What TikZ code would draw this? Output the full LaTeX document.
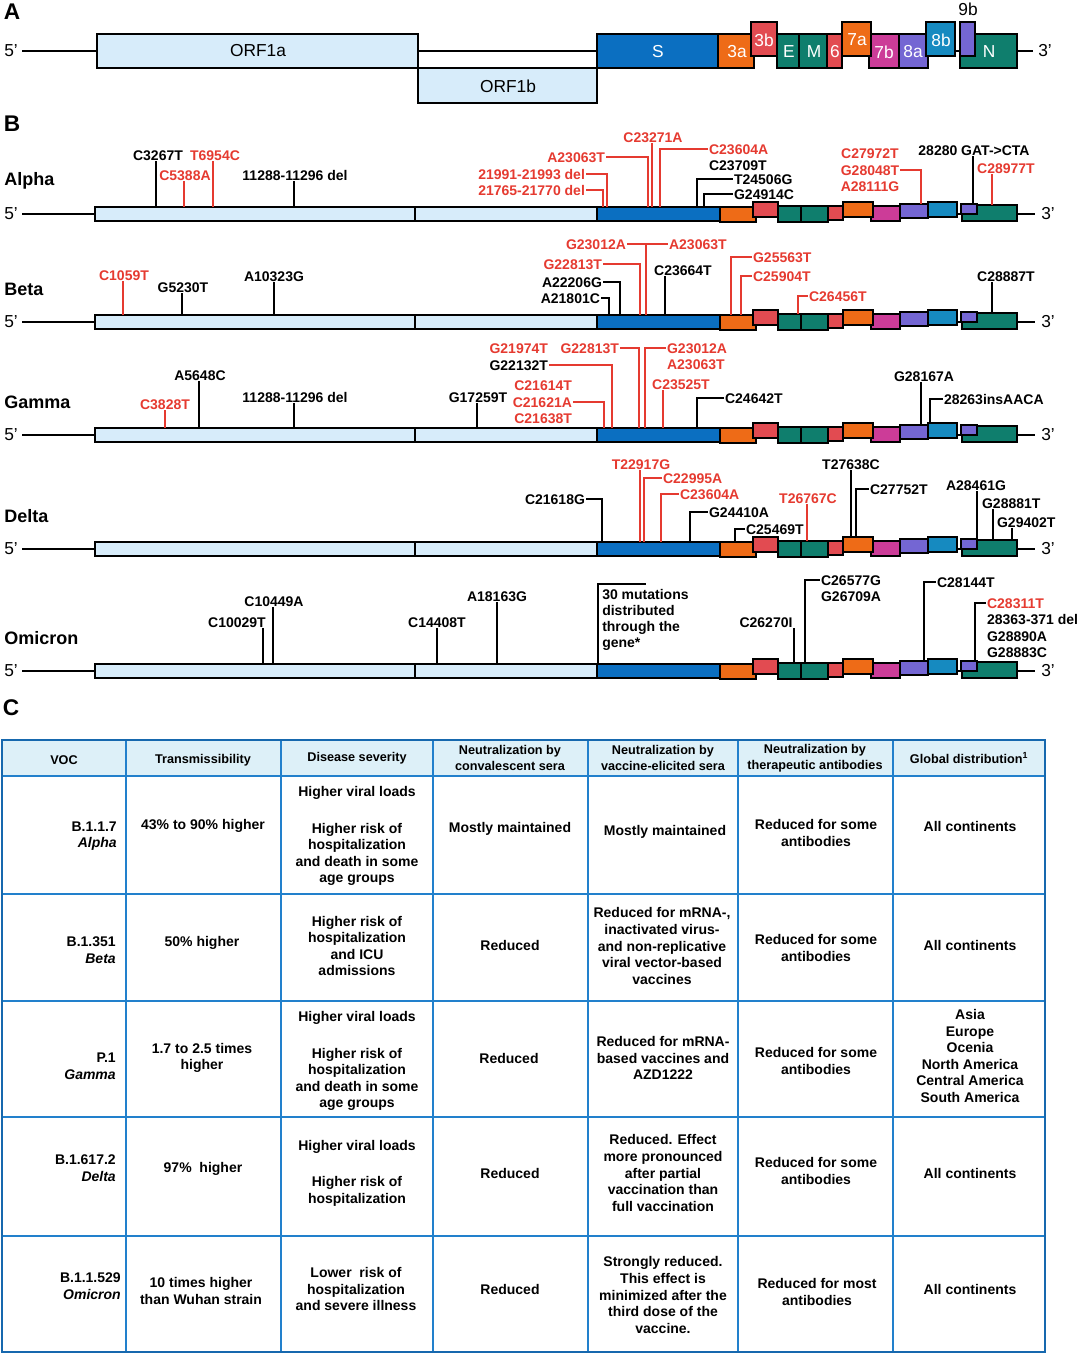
\documentclass[tikz,border=0pt]{standalone}
\usepackage{fontspec}
\setmainfont{Liberation Sans}
\usetikzlibrary{positioning}

\definecolor{orfblue}{HTML}{D7ECFA}
\definecolor{sblue}{HTML}{0B6FC1}
\definecolor{orfora}{HTML}{EE6B17}
\definecolor{orfred}{HTML}{E24B51}
\definecolor{orfteal}{HTML}{0F7E6D}
\definecolor{orfmag}{HTML}{CC3C98}
\definecolor{orfpur}{HTML}{7466D3}
\definecolor{orfcyan}{HTML}{168AC0}
\definecolor{mutred}{HTML}{E53A30}
\definecolor{tabline}{HTML}{2280CC}
\definecolor{tabedge}{HTML}{1668AE}
\definecolor{tabhead}{HTML}{DDF0F8}

\newcommand{\mutfont}{\fontsize{10.5}{12}\selectfont\bfseries}
\newcommand{\genefont}{\fontsize{13}{15}\selectfont}
\newcommand{\trackfont}{\fontsize{13.5}{16}\selectfont\bfseries}
\newcommand{\panelfont}{\fontsize{17}{20}\selectfont\bfseries}
\newcommand{\cellfont}{\fontsize{10.5}{12.4}\selectfont\bfseries}
\newcommand{\headfont}{\fontsize{9.5}{12}\selectfont\bfseries}

\begin{document}
\begin{tikzpicture}[
    x=0.75pt, y=-0.75pt,
    genebox/.style={draw=black, line width=1.1pt},
    genelabel/.style={font=\genefont, text=white, inner sep=0pt},
    trackline/.style={draw=black, line width=1.1pt},
    prime/.style={font=\genefont, inner sep=0pt},
    panel/.style={font=\panelfont, inner sep=0pt},
    trackname/.style={font=\trackfont, anchor=west, inner sep=0pt},
    mut/.style={font=\mutfont, inner sep=0.6pt, text height=7.8pt, text depth=0pt},
    redmut/.style={mut, text=mutred},
    blkline/.style={draw=black, line width=1pt},
    redline/.style={draw=mutred, line width=1pt},
    thickred/.style={draw=mutred, line width=1.8pt},
    cell/.style={font=\cellfont, align=center, inner sep=0pt},
    vocell/.style={cell, align=right, anchor=east},
    headcell/.style={font=\headfont, align=center, inner sep=0pt},
    tabgrid/.style={draw=tabline, line width=1pt},
    node distance=3pt
    ]
    \useasboundingbox (0,0) rectangle (1080,1355);

    %Panel A
    \node[panel] (pA) at (12,12) {A};
    \node[prime] (fiveA) at (11,51) {5'};
    \draw[trackline] (22,51) -- (97,51);
    \draw[trackline] (418,51) -- (597,51);
    \draw[trackline] (955,51) -- (960,51);
    \draw[trackline] (1017,51) -- (1033,51);
    \filldraw[genebox, fill=orfblue] (97,34) rectangle (418,68);
    \filldraw[genebox, fill=orfblue] (418,68) rectangle (597,103);
    \filldraw[genebox, fill=sblue] (597,34) rectangle (718,68);
    \filldraw[genebox, fill=orfora] (718,34) rectangle (754,68);
    \filldraw[genebox, fill=orfred] (751,22) rectangle (777,56);
    \filldraw[genebox, fill=orfteal] (777,34) rectangle (799,68);
    \filldraw[genebox, fill=orfteal] (799,34) rectangle (827,68);
    \filldraw[genebox, fill=orfred] (827,34) rectangle (842,68);
    \filldraw[genebox, fill=orfmag] (869,34) rectangle (899,68);
    \filldraw[genebox, fill=orfora] (842,22) rectangle (871,56);
    \filldraw[genebox, fill=orfpur] (899,34) rectangle (928,68);
    \filldraw[genebox, fill=orfcyan] (926,22) rectangle (955,56);
    \filldraw[genebox, fill=orfteal] (960,34) rectangle (1017,68);
    \filldraw[genebox, fill=orfpur] (960,22) rectangle (975,56);

    \node[genelabel, text=black] (ORF1a) at (258,51) {ORF1a};
    \node[genelabel, text=black] (ORF1b) at (508,86) {ORF1b};
    \node[genelabel] (gS) at (658,52) {S};
    \node[genelabel] (g3a) at (737,52) {3a};
    \node[genelabel] (g3b) at (764,40) {3b};
    \node[genelabel] (gE) at (789,52) {E};
    \node[genelabel] (gM) at (814,52) {M};
    \node[genelabel] (g6) at (835,52) {6};
    \node[genelabel] (g7a) at (857,40) {7a};
    \node[genelabel] (g7b) at (884,52) {7b};
    \node[genelabel] (g8a) at (913,52) {8a};
    \node[genelabel] (g8b) at (941,40) {8b};
    \node[genelabel] (gN) at (989,52) {N};
    \node[genelabel, text=black] (g9b) at (968,9) {9b};
    \node[prime] (threeA) at (1045,51) {3'};

    %Panel B
    \node[panel] (pB) at (12,124) {B};
    \node[trackname] (tAlpha) at (4,181) {Alpha};
    \node[trackname] (tBeta) at (4,289) {Beta};
    \node[trackname] (tGamma) at (4,402) {Gamma};
    \node[trackname] (tDelta) at (4,516) {Delta};
    \node[trackname] (tOmicron) at (4,638) {Omicron};

    \foreach \ty in {214,322,435,549,671} {
        \node[prime] (five\ty) at (11,\ty) {5'};
        \node[prime] (three\ty) at (1048,\ty) {3'};
        \draw[trackline] (22,\ty) -- (95,\ty);
        \draw[trackline] (955,\ty) -- (963,\ty);
        \draw[trackline] (1017,\ty) -- (1035,\ty);
        \filldraw[genebox, fill=orfblue] (95,\ty-7) rectangle (415,\ty+7);
        \filldraw[genebox, fill=orfblue] (415,\ty-7) rectangle (597,\ty+7);
        \filldraw[genebox, fill=sblue] (597,\ty-7) rectangle (720,\ty+7);
        \filldraw[genebox, fill=orfora] (720,\ty-7) rectangle (756,\ty+8);
        \filldraw[genebox, fill=orfred] (753,\ty-12) rectangle (778,\ty+3);
        \filldraw[genebox, fill=orfteal] (778,\ty-8) rectangle (801,\ty+8);
        \filldraw[genebox, fill=orfteal] (801,\ty-8) rectangle (828,\ty+8);
        \filldraw[genebox, fill=orfred] (828,\ty-8) rectangle (843,\ty+6);
        \filldraw[genebox, fill=orfmag] (871,\ty-8) rectangle (900,\ty+7);
        \filldraw[genebox, fill=orfora] (843,\ty-12) rectangle (873,\ty+3);
        \filldraw[genebox, fill=orfpur] (900,\ty-10) rectangle (928,\ty+4);
        \filldraw[genebox, fill=orfcyan] (928,\ty-12) rectangle (957,\ty+3);
        \filldraw[genebox, fill=orfteal] (962,\ty-9) rectangle (1017,\ty+7);
        \filldraw[genebox, fill=orfpur] (961,\ty-10) rectangle (977,\ty);
    }

    %Alpha
    \node[mut] (aC3267T) at (158,155) {C3267T};
    \node[redmut] (aT6954C) at (215,155) {T6954C};
    \node[redmut] (aC5388A) at (185,175) {C5388A};
    \node[mut] (a11288) at (295,175) {11288-11296 del};
    \node[redmut, anchor=east] (a21991) at (586,174) {21991-21993 del};
    \node[redmut, anchor=east] (a21765) at (586,190) {21765-21770 del};
    \node[redmut, anchor=east] (aA23063T) at (606,157) {A23063T};
    \node[redmut] (aC23271A) at (653,137) {C23271A};
    \node[redmut, anchor=west] (aC23604A) at (708,149) {C23604A};
    \node[mut, below=of aC23604A.south west, anchor=north west] (aC23709T) {C23709T};
    \node[mut, anchor=west] (aT24506G) at (733,179) {T24506G};
    \node[mut, anchor=west] (aG24914C) at (733,194) {G24914C};
    \node[redmut] (aG28048T) at (870,170) {G28048T};
    \node[redmut, above=of aG28048T] (aC27972T) {C27972T};
    \node[redmut, below=of aG28048T] (aA28111G) {A28111G};
    \node[mut] (a28280) at (974,150) {28280 GAT->CTA};
    \node[redmut] (aC28977T) at (1006,168) {C28977T};

    \draw[blkline] (156,207) coordinate (aC3267Tt) -- (aC3267Tt |- aC3267T.south);
    \draw[redline] (213,207) coordinate (aT6954Ct) -- (aT6954Ct |- aT6954C.south);
    \draw[redline] (184,207) coordinate (aC5388At) -- (aC5388At |- aC5388A.south);
    \draw[blkline] (294,207) coordinate (a11288t) -- (a11288t |- a11288.south);
    \draw[redline] (607,207) coordinate (a21991t) |- (a21991.east);
    \draw[redline] (603,207) coordinate (a21765t) |- (a21765.east);
    \draw[redline] (648,207) coordinate (aA23063Tt) |- (aA23063T.east);
    \draw[redline] (652,207) coordinate (aC23271At) -- (aC23271At |- aC23271A.south);
    \draw[redline] (660,207) coordinate (aC23604At) |- (aC23604A.west);
    \draw[blkline] (697,207) coordinate (aT24506Gt) |- (aT24506G.west);
    \draw[blkline] (704,207) coordinate (aG24914Ct) |- (aG24914C.west);
    \draw[thickred] (921,204) coordinate (aG28048Tt) |- (aG28048T.east);
    \draw[blkline] (973,204) coordinate (a28280t) -- (a28280t |- a28280.south);
    \draw[redline] (992,205) coordinate (aC28977Tt) -- (aC28977Tt |- aC28977T.south);

    %Beta
    \node[redmut] (bC1059T) at (124,275) {C1059T};
    \node[mut] (bG5230T) at (183,287) {G5230T};
    \node[mut] (bA10323G) at (274,276) {A10323G};
    \node[redmut, anchor=east] (bG23012A) at (627,244) {G23012A};
    \node[redmut, anchor=west] (bA23063T) at (668,244) {A23063T};
    \node[redmut, anchor=east] (bG22813T) at (603,264) {G22813T};
    \node[mut, anchor=east] (bA22206G) at (603,282) {A22206G};
    \node[mut, anchor=east] (bA21801C) at (601,298) {A21801C};
    \node[mut] (bC23664T) at (683,270) {C23664T};
    \node[redmut, anchor=west] (bG25563T) at (752,257) {G25563T};
    \node[redmut, anchor=west] (bC25904T) at (752,276) {C25904T};
    \node[redmut, anchor=west] (bC26456T) at (808,296) {C26456T};
    \node[mut] (bC28887T) at (1006,276) {C28887T};

    \draw[redline] (123,315) coordinate (bC1059Tt) -- (bC1059Tt |- bC1059T.south);
    \draw[blkline] (182,315) coordinate (bG5230Tt) -- (bG5230Tt |- bG5230T.south);
    \draw[blkline] (274,315) coordinate (bA10323Gt) -- (bA10323Gt |- bA10323G.south);
    \draw[redline] (bG23012A.east) -- (bA23063T.west);
    \draw[thickred] (646,315) coordinate (bG23012At) -- (bG23012At |- bG23012A.east);
    \draw[redline] (640,315) coordinate (bG22813Tt) |- (bG22813T.east);
    \draw[blkline] (620,315) coordinate (bA22206Gt) |- (bA22206G.east);
    \draw[blkline] (609,315) coordinate (bA21801Ct) |- (bA21801C.east);
    \draw[blkline] (665,315) coordinate (bC23664Tt) -- (bC23664Tt |- bC23664T.south);
    \draw[redline] (731,315) coordinate (bG25563Tt) |- (bG25563T.west);
    \draw[redline] (741,315) coordinate (bC25904Tt) |- (bC25904T.west);
    \draw[redline] (798,314) coordinate (bC26456Tt) |- (bC26456T.west);
    \draw[blkline] (992,313) coordinate (bC28887Tt) -- (bC28887Tt |- bC28887T.south);

    %Gamma
    \node[redmut] (gC3828T) at (165,404) {C3828T};
    \node[mut] (gA5648C) at (200,375) {A5648C};
    \node[mut] (g11288) at (295,397) {11288-11296 del};
    \node[mut] (gG17259T) at (478,397) {G17259T};
    \node[mut, anchor=east] (gG22132T) at (549,365) {G22132T};
    \node[redmut, above=of gG22132T.north east, anchor=south east] (gG21974T) {G21974T};
    \node[redmut, anchor=east] (gC21621A) at (573,402) {C21621A};
    \node[redmut, above=of gC21621A.north east, anchor=south east] (gC21614T) {C21614T};
    \node[redmut, below=of gC21621A.south east, anchor=north east] (gC21638T) {C21638T};
    \node[redmut, anchor=east] (gG22813T) at (620,348) {G22813T};
    \node[redmut, anchor=west] (gG23012A) at (666,348) {G23012A};
    \node[redmut, below=of gG23012A.south west, anchor=north west] (gA23063T) {A23063T};
    \node[redmut] (gC23525T) at (681,384) {C23525T};
    \node[mut, anchor=west] (gC24642T) at (724,398) {C24642T};
    \node[mut] (gG28167A) at (924,376) {G28167A};
    \node[mut, anchor=west] (g28263) at (943,399) {28263insAACA};

    \draw[redline] (165,428) coordinate (gC3828Tt) -- (gC3828Tt |- gC3828T.south);
    \draw[blkline] (199,428) coordinate (gA5648Ct) -- (gA5648Ct |- gA5648C.south);
    \draw[blkline] (294,428) coordinate (g11288t) -- (g11288t |- g11288.south);
    \draw[blkline] (477,428) coordinate (gG17259Tt) -- (gG17259Tt |- gG17259T.south);
    \draw[thickred] (612,428) coordinate (gG22132Tt) |- (gG22132T.east);
    \draw[thickred] (604,428) coordinate (gC21621At) |- (gC21621A.east);
    \draw[redline] (639,428) coordinate (gG22813Tt) |- (gG22813T.east);
    \draw[thickred] (645,428) coordinate (gG23012At) |- (gG23012A.west);
    \draw[redline] (663,428) coordinate (gC23525Tt) -- (gC23525Tt |- gC23525T.south);
    \draw[blkline] (697,428) coordinate (gC24642Tt) |- (gC24642T.west);
    \draw[blkline] (921,425) coordinate (gG28167At) -- (gG28167At |- gG28167A.south);
    \draw[blkline] (930,423) coordinate (g28263t) |- (g28263.west);

    %Delta
    \node[mut, anchor=east] (dC21618G) at (586,499) {C21618G};
    \node[redmut] (dT22917G) at (641,464) {T22917G};
    \node[redmut, anchor=west] (dC22995A) at (662,478) {C22995A};
    \node[redmut, anchor=west] (dC23604A) at (679,494) {C23604A};
    \node[mut, anchor=west] (dG24410A) at (708,512) {G24410A};
    \node[mut, anchor=west] (dC25469T) at (745,529) {C25469T};
    \node[redmut] (dT26767C) at (808,498) {T26767C};
    \node[mut] (dT27638C) at (851,464) {T27638C};
    \node[mut, anchor=west] (dC27752T) at (869,489) {C27752T};
    \node[mut] (dA28461G) at (976,485) {A28461G};
    \node[mut, anchor=west] (dG28881T) at (981,503) {G28881T};
    \node[mut, anchor=west] (dG29402T) at (996,522) {G29402T};

    \draw[blkline] (602,542) coordinate (dC21618Gt) |- (dC21618G.east);
    \draw[redline] (640,542) coordinate (dT22917Gt) -- (dT22917Gt |- dT22917G.south);
    \draw[redline] (644,542) coordinate (dC22995At) |- (dC22995A.west);
    \draw[redline] (661,542) coordinate (dC23604At) |- (dC23604A.west);
    \draw[blkline] (690,542) coordinate (dG24410At) |- (dG24410A.west);
    \draw[blkline] (735,542) coordinate (dC25469Tt) |- (dC25469T.west);
    \draw[redline] (807,541) coordinate (dT26767Ct) -- (dT26767Ct |- dT26767C.south);
    \draw[blkline] (851,537) coordinate (dT27638Ct) -- (dT27638Ct |- dT27638C.south);
    \draw[blkline] (856,537) coordinate (dC27752Tt) |- (dC27752T.west);
    \draw[blkline] (977,539) coordinate (dA28461Gt) -- (dA28461Gt |- dA28461G.south);
    \draw[blkline] (993,540) coordinate (dG28881Tt) -- (dG28881Tt |- dG28881T.south);
    \draw[blkline] (1012,540) coordinate (dG29402Tt) -- (dG29402Tt |- dG29402T.south);

    %Omicron
    \node[mut] (oC10029T) at (237,622) {C10029T};
    \node[mut] (oC10449A) at (274,601) {C10449A};
    \node[mut] (oC14408T) at (437,622) {C14408T};
    \node[mut] (oA18163G) at (497,596) {A18163G};
    \node[font=\mutfont, align=left, anchor=north west, inner sep=0pt] (oS) at (602,589)
        {30 mutations\\distributed\\through the\\gene*};
    \node[mut] (oC26270I) at (766,622) {C26270I};
    \node[mut, anchor=west] (oC26577G) at (820,580) {C26577G};
    \node[mut, below=of oC26577G.south west, anchor=north west] (oG26709A) {G26709A};
    \node[mut, anchor=west] (oC28144T) at (936,582) {C28144T};
    \node[redmut, anchor=west] (oC28311T) at (986,603) {C28311T};
    \node[mut, below=of oC28311T.south west, anchor=north west] (o28363) {28363-371 del};
    \node[mut, below=of o28363.south west, anchor=north west] (oG28890A) {G28890A};
    \node[mut, below=of oG28890A.south west, anchor=north west] (oG28883C) {G28883C};
    \coordinate (oSend) at (646,584);

    \draw[blkline] (263,664) coordinate (oC10029Tt) -- (oC10029Tt |- oC10029T.south);
    \draw[blkline] (273,664) coordinate (oC10449At) -- (oC10449At |- oC10449A.south);
    \draw[blkline] (437,664) coordinate (oC14408Tt) -- (oC14408Tt |- oC14408T.south);
    \draw[blkline] (497,664) coordinate (oA18163Gt) -- (oA18163Gt |- oA18163G.south);
    \draw[blkline] (598,664) coordinate (oSt) |- (oSend);
    \draw[blkline] (794,663) coordinate (oC26270It) -- (oC26270It |- oC26270I.south);
    \draw[blkline] (805,663) coordinate (oC26577Gt) |- (oC26577G.west);
    \draw[blkline] (924,661) coordinate (oC28144Tt) |- (oC28144T.west);
    \draw[blkline] (975,661) coordinate (oC28311Tt) |- (oC28311T.west);

    %Panel C
    \node[panel] (pC) at (11,708) {C};
    \fill[tabhead] (2,740) rectangle (1045,776);
    \foreach \x in {126,281,433,588,738,893} \draw[tabgrid] (\x,740) -- (\x,1352);
    \foreach \y in {776,894,1001,1117,1236} \draw[tabgrid] (2,\y) -- (1045,\y);
    \draw[draw=tabedge, line width=1.5pt] (2,740) rectangle (1045,1352);

    %Header
    \node[headcell] (hVOC) at (64,760) {VOC};
    \node[headcell] (hTrans) at (203,760) {Transmissibility};
    \node[headcell] (hSev) at (357,758) {Disease severity};
    \node[headcell] (hConv) at (510,758) {Neutralization by\\convalescent sera};
    \node[headcell] (hVacc) at (663,758) {Neutralization by\\vaccine-elicited sera};
    \node[headcell] (hTher) at (815,758) {Neutralization by\\therapeutic antibodies};
    \node[headcell] (hGlob) at (969,758) {Global distribution\textsuperscript{1}};

    %Rows
    \node[vocell] (r1voc) at (117,836) {B.1.1.7\\\textit{Alpha}};
    \node[cell] (r1trans) at (203,826) {43\% to 90\% higher};
    \node[cell] (r1sev) at (357,836) {Higher viral loads\\[15pt]Higher risk of\\hospitalization\\and death in some\\age groups};
    \node[cell] (r1conv) at (510,829) {Mostly maintained};
    \node[cell] (r1vacc) at (665,832) {Mostly maintained};
    \node[cell] (r1ther) at (816,833) {Reduced for some\\antibodies};
    \node[cell] (r1glob) at (970,826) {All continents};

    \node[vocell] (r2voc) at (116,950) {B.1.351\\\textit{Beta}};
    \node[cell] (r2trans) at (202,943) {50\% higher};
    \node[cell] (r2sev) at (357,946) {Higher risk of\\hospitalization\\and ICU\\admissions};
    \node[cell] (r2conv) at (510,945) {Reduced};
    \node[cell] (r2vacc) at (662,946) {Reduced for mRNA-,\\inactivated virus-\\and non-replicative\\viral vector-based\\vaccines};
    \node[cell] (r2ther) at (816,948) {Reduced for some\\antibodies};
    \node[cell] (r2glob) at (970,945) {All continents};

    \node[vocell] (r3voc) at (116,1066) {P.1\\\textit{Gamma}};
    \node[cell] (r3trans) at (202,1058) {1.7 to 2.5 times\\higher};
    \node[cell] (r3sev) at (357,1061) {Higher viral loads\\[15pt]Higher risk of\\hospitalization\\and death in some\\age groups};
    \node[cell] (r3conv) at (509,1058) {Reduced};
    \node[cell] (r3vacc) at (663,1058) {Reduced for mRNA-\\based vaccines and\\AZD1222};
    \node[cell] (r3ther) at (816,1061) {Reduced for some\\antibodies};
    \node[cell] (r3glob) at (970,1056) {Asia\\Europe\\Ocenia\\North America\\Central America\\South America};

    \node[vocell] (r4voc) at (116,1168) {B.1.617.2\\\textit{Delta}};
    \node[cell] (r4trans) at (203,1169) {97\%\ \ higher};
    \node[cell] (r4sev) at (357,1173) {Higher viral loads\\[15pt]Higher risk of\\hospitalization};
    \node[cell] (r4conv) at (510,1173) {Reduced};
    \node[cell] (r4vacc) at (663,1173) {Reduced. Effect\\more pronounced\\after partial\\vaccination than\\full vaccination};
    \node[cell] (r4ther) at (816,1171) {Reduced for some\\antibodies};
    \node[cell] (r4glob) at (970,1173) {All continents};

    \node[vocell] (r5voc) at (121,1286) {B.1.1.529\\\textit{Omicron}};
    \node[cell] (r5trans) at (201,1291) {10 times higher\\than Wuhan strain};
    \node[cell] (r5sev) at (356,1289) {Lower\ \ risk of\\hospitalization\\and severe illness};
    \node[cell] (r5conv) at (510,1289) {Reduced};
    \node[cell] (r5vacc) at (663,1295) {Strongly reduced.\\This effect is\\minimized after the\\third dose of the\\vaccine.};
    \node[cell] (r5ther) at (817,1292) {Reduced for most\\antibodies};
    \node[cell] (r5glob) at (970,1289) {All continents};

\end{tikzpicture}
\end{document}
